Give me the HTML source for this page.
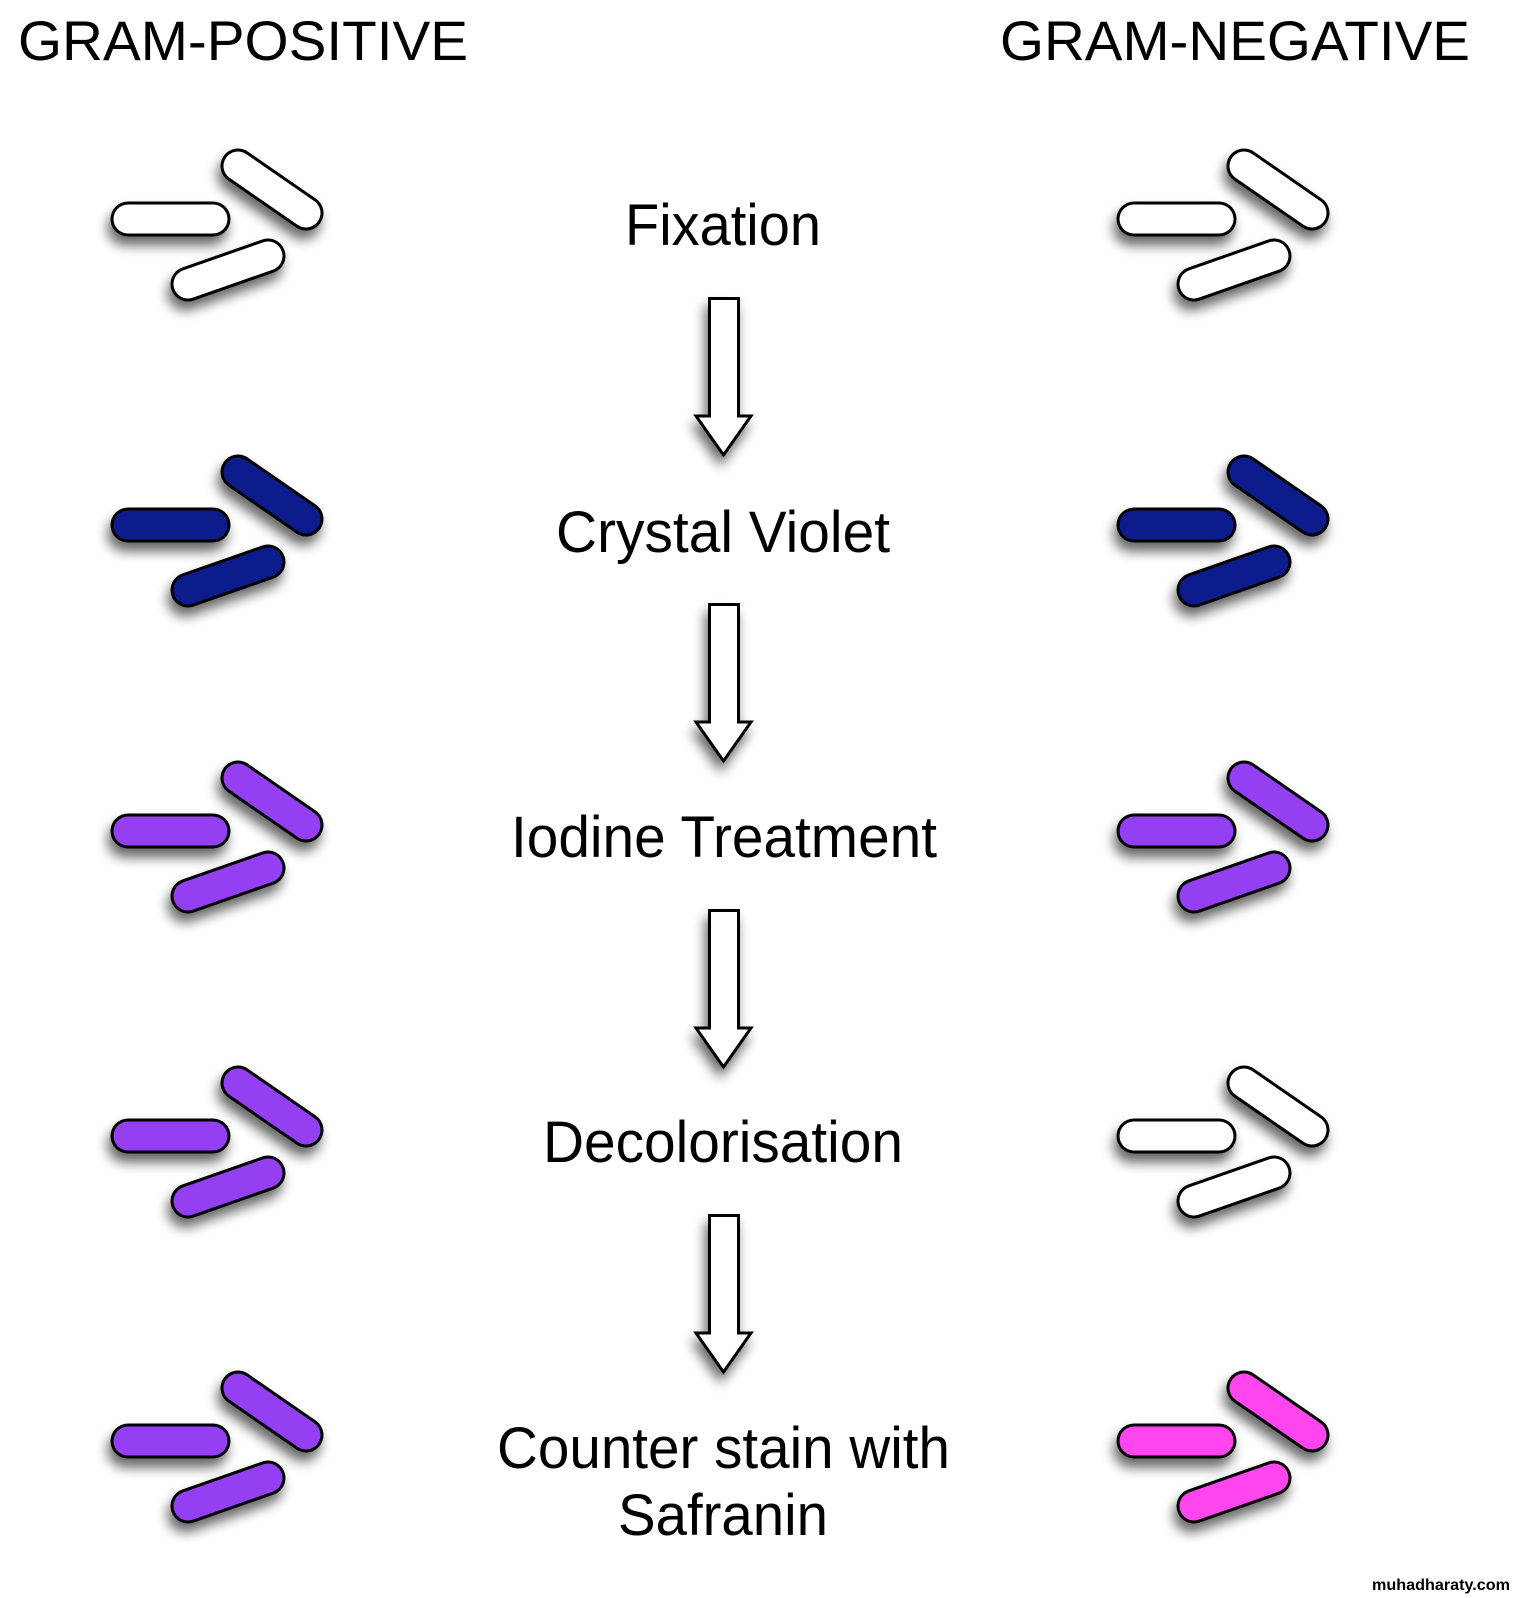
<!DOCTYPE html>
<html><head><meta charset="utf-8"><style>
html,body{margin:0;padding:0;background:#fff;overflow:hidden;}
svg{display:block;width:100vw;height:100vh;}
text{font-family:"Liberation Sans",Arial,sans-serif;fill:#000;}
</style></head><body>
<svg viewBox="0 0 1520 1598" preserveAspectRatio="none" xmlns="http://www.w3.org/2000/svg">
<defs>
<filter id="sh" filterUnits="userSpaceOnUse" x="0" y="0" width="1520" height="1598">
<feGaussianBlur in="SourceAlpha" stdDeviation="6"/>
<feOffset dx="-3" dy="9" result="b"/>
<feComponentTransfer><feFuncA type="linear" slope="0.6"/></feComponentTransfer>
<feMerge><feMergeNode/><feMergeNode in="SourceGraphic"/></feMerge>
</filter>
<g id="rod1"><line x1="128" y1="219" x2="213" y2="219" stroke="#000" stroke-width="35" stroke-linecap="round"/><line x1="128" y1="219" x2="213" y2="219" stroke="currentColor" stroke-width="29" stroke-linecap="round"/></g>
<g id="rod2"><line x1="238" y1="166" x2="306" y2="213" stroke="#000" stroke-width="35" stroke-linecap="round"/><line x1="238" y1="166" x2="306" y2="213" stroke="currentColor" stroke-width="29" stroke-linecap="round"/></g>
<g id="rod3"><line x1="188" y1="284" x2="268" y2="256" stroke="#000" stroke-width="35" stroke-linecap="round"/><line x1="188" y1="284" x2="268" y2="256" stroke="currentColor" stroke-width="29" stroke-linecap="round"/></g>
<g id="cl"><g filter="url(#sh)"><use href="#rod1"/></g><g filter="url(#sh)"><use href="#rod2"/></g><g filter="url(#sh)"><use href="#rod3"/></g></g>
<g id="arr" filter="url(#sh)"><path d="M709.5,298.5 H738.5 V416 H751 L723.5,455 L696,416 H709.5 Z" fill="#fff" stroke="#000" stroke-width="3"/></g>
</defs>

<text x="18" y="60" font-size="56" textLength="450" lengthAdjust="spacingAndGlyphs">GRAM-POSITIVE</text>
<text x="1000" y="60" font-size="56" textLength="470" lengthAdjust="spacingAndGlyphs">GRAM-NEGATIVE</text>

<use href="#cl" style="color:#ffffff"/>
<use href="#cl" y="306" style="color:#0b1f8c"/>
<use href="#cl" y="612" style="color:#9440f2"/>
<use href="#cl" y="917" style="color:#9440f2"/>
<use href="#cl" y="1222" style="color:#9440f2"/>
<use href="#cl" x="1006" style="color:#ffffff"/>
<use href="#cl" x="1006" y="306" style="color:#0b1f8c"/>
<use href="#cl" x="1006" y="612" style="color:#9440f2"/>
<use href="#cl" x="1006" y="917" style="color:#ffffff"/>
<use href="#cl" x="1006" y="1222" style="color:#ff44ee"/>

<use href="#arr"/>
<use href="#arr" y="306"/>
<use href="#arr" y="612"/>
<use href="#arr" y="917"/>

<text x="625" y="245" font-size="58" textLength="196" lengthAdjust="spacingAndGlyphs">Fixation</text>
<text x="556" y="552" font-size="58" textLength="334" lengthAdjust="spacingAndGlyphs">Crystal Violet</text>
<text x="511" y="857" font-size="58" textLength="426" lengthAdjust="spacingAndGlyphs">Iodine Treatment</text>
<text x="543" y="1162" font-size="58" textLength="360" lengthAdjust="spacingAndGlyphs">Decolorisation</text>
<text x="497" y="1468" font-size="58" textLength="453" lengthAdjust="spacingAndGlyphs">Counter stain with</text>
<text x="618" y="1535" font-size="58" textLength="210" lengthAdjust="spacingAndGlyphs">Safranin</text>

<text x="1372" y="1590" font-size="16" font-weight="bold" textLength="138" lengthAdjust="spacingAndGlyphs">muhadharaty.com</text>
</svg>
</body></html>
